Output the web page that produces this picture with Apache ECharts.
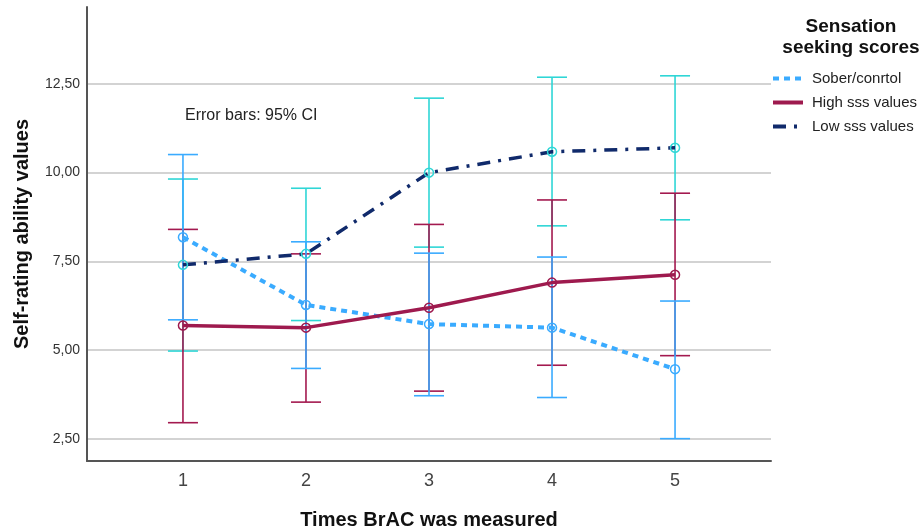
<!DOCTYPE html>
<html>
<head>
<meta charset="utf-8">
<script src="https://cdn.jsdelivr.net/npm/echarts@6/dist/echarts.min.js"></script>
<style>
  html, body { margin: 0; padding: 0; background: #fff; }
  #chart { width: 923px; height: 530px; }
</style>
</head>
<body>
<div id="chart"></div>
<script>
const times = [1, 2, 3, 4, 5]
const yTicks = [2.5, 5, 7.5, 10, 12.5]

// Sober/conrtol
const soberMean = [8.18, 6.27, 5.73, 5.63, 4.46]
const soberLow = [5.85, 4.48, 3.71, 3.66, 2.5]
const soberHigh = [10.51, 8.05, 7.73, 7.62, 6.38]
// High sss values
const highMean = [5.69, 5.63, 6.19, 6.9, 7.12]
const highLow = [2.95, 3.53, 3.84, 4.57, 4.84]
const highHigh = [8.4, 7.71, 8.54, 9.23, 9.42]
// Low sss values
const lowMean = [7.4, 7.71, 10.0, 10.59, 10.7]
const lowLow = [4.97, 5.83, 7.9, 8.5, 8.67]
const lowHigh = [9.82, 9.56, 12.1, 12.69, 12.73]

const font = "'Liberation Sans', Arial, sans-serif"
const narrow = "'Liberation Sans Narrow', 'Arial Narrow', sans-serif"

function pairs(xs, ys) {
    return xs.map((x, i) => [x, ys[i]])
}
function ciData(lo, hi) {
    return times.map((x, i) => [x, lo[i], hi[i]])
}

function errorBars(name, lo, hi, color) {
    return {
        name: name + " CI",
        type: "custom",
        z: 1,
        silent: true,
        data: ciData(lo, hi),
        encode: { x: 0, y: [1, 2] },
        renderItem: function (params, api) {
            const x = api.value(0)
            const top = api.coord([x, api.value(2)])
            const bot = api.coord([x, api.value(1)])
            const half = 15
            const style = { stroke: color, lineWidth: 1.6, fill: null }
            return {
                type: "group",
                children: [
                    { type: "line", shape: { x1: top[0], y1: top[1], x2: bot[0], y2: bot[1] }, style: style },
                    { type: "line", shape: { x1: top[0] - half, y1: top[1], x2: top[0] + half, y2: top[1] }, style: style },
                    { type: "line", shape: { x1: bot[0] - half, y1: bot[1], x2: bot[0] + half, y2: bot[1] }, style: style },
                ],
            }
        },
    }
}

function meanLine(name, ys, lineColor, markColor, dash, width) {
    return {
        name: name,
        type: "line",
        z: 3,
        data: pairs(times, ys),
        symbol: "circle",
        symbolSize: 9,
        color: lineColor,
        itemStyle: { color: "rgba(255,255,255,0)", borderColor: markColor, borderWidth: 1.5 },
        lineStyle: { color: lineColor, width: width, type: dash, cap: "butt" },
        emphasis: { disabled: true },
    }
}

const chart = echarts.init(document.getElementById("chart"))
chart.setOption({
    animation: false,
    grid: { left: 87, right: 152, top: 7, bottom: 69, containLabel: false, outerBoundsMode: "none" },
    textStyle: { fontFamily: font },
    legend: {
        data: ["Sober/conrtol", "High sss values", "Low sss values"],
        orient: "vertical",
        left: 766,
        top: 66,
        itemWidth: 30,
        itemHeight: 14,
        itemGap: 9,
        selectedMode: false,
        itemStyle: { color: "rgba(255,255,255,0)", borderColor: "rgba(255,255,255,0)", borderWidth: 0 },
        lineStyle: { width: 4 },
        textStyle: { fontFamily: font, fontSize: 15, color: "#222", padding: [0, 0, 0, 4] },
    },
    graphic: [
        {
            type: "text",
            left: 185,
            top: 108,
            style: { text: "Error bars: 95% CI", font: "16px " + font, fill: "#222" },
        },
        {
            type: "text",
            x: 851,
            y: 16,
            style: {
                text: "Sensation\nseeking scores",
                font: "bold 19px " + font,
                fill: "#111",
                align: "center",
                lineHeight: 21,
            },
        },
    ],
    xAxis: {
        type: "value",
        min: 0.22,
        max: 5.78,
        name: "Times BrAC was measured",
        nameLocation: "middle",
        nameGap: 49,
        nameTextStyle: { fontFamily: font, fontSize: 20, fontWeight: "bold", color: "#111" },
        axisLine: { show: true, lineStyle: { color: "#555", width: 2 } },
        axisTick: { show: false, customValues: times },
        axisLabel: { customValues: times, fontSize: 18, color: "#444", margin: 11, fontFamily: narrow },
        splitLine: { show: false },
    },
    yAxis: {
        type: "value",
        min: 1.87,
        max: 14.67,
        name: "Self-rating ability values",
        nameLocation: "middle",
        nameGap: 55,
        nameTextStyle: { fontFamily: font, fontSize: 20, fontWeight: "bold", color: "#111" },
        axisLine: { show: true, lineStyle: { color: "#555", width: 2 } },
        axisTick: { show: false, customValues: yTicks },
        axisLabel: {
            customValues: yTicks,
            fontSize: 14,
            color: "#333",
            margin: 7,
            fontFamily: font,
            formatter: (v) => v.toFixed(2).replace(".", ","),
        },
        splitLine: { show: true, lineStyle: { color: "#c4c4c4", width: 1.5 } },
    },
    series: [
        errorBars("Low sss values", lowLow, lowHigh, "#2fd6d6"),
        errorBars("High sss values", highLow, highHigh, "#a3194f"),
        errorBars("Sober/conrtol", soberLow, soberHigh, "#3aabff"),
        meanLine("Sober/conrtol", soberMean, "#3aabff", "#3aabff", [6, 5], 4),
        meanLine("High sss values", highMean, "#9e1a4e", "#9e1a4e", "solid", 3.5),
        meanLine("Low sss values", lowMean, "#102a6b", "#2fd6d6", [13, 8, 3, 8], 3.5),
    ],
})
window.addEventListener("resize", function () {
    chart.resize()
})
</script>
</body>
</html>
